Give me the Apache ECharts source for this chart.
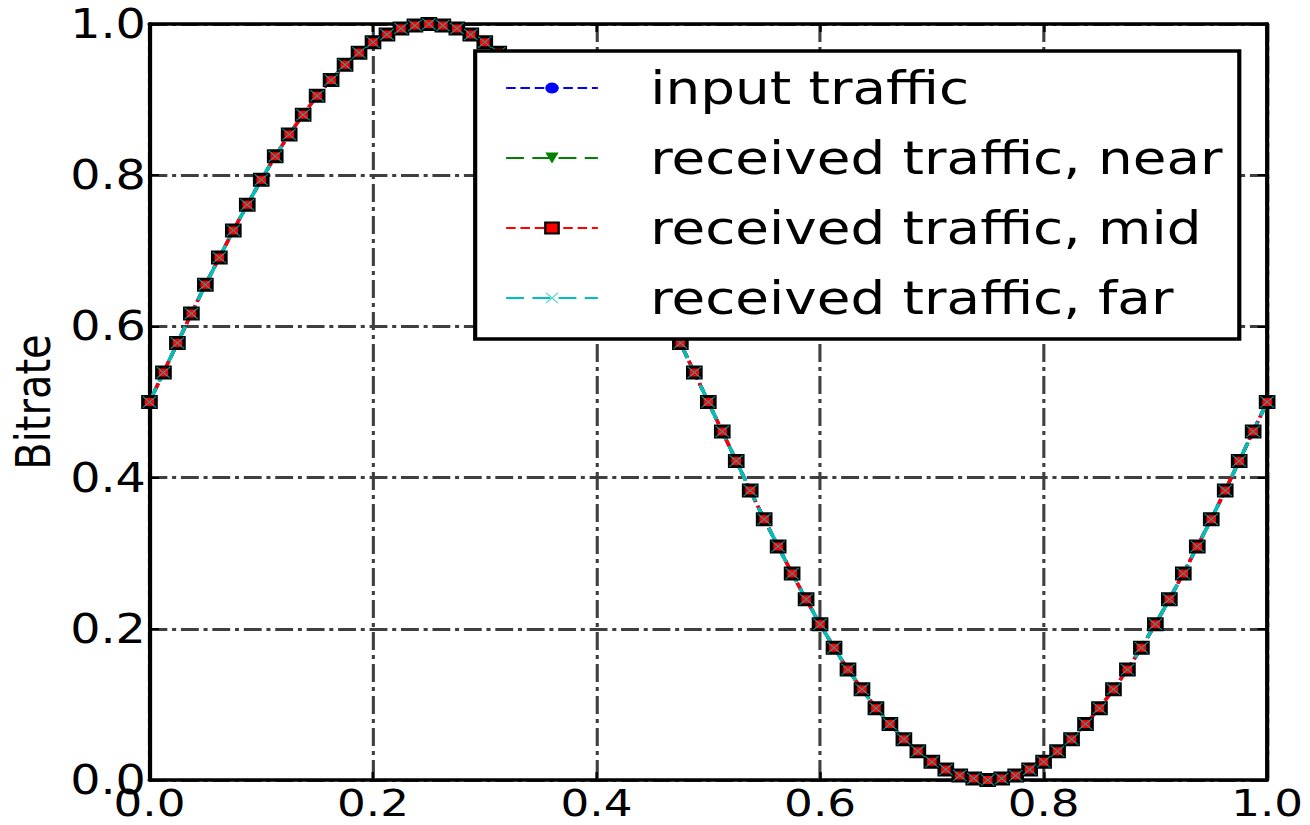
<!DOCTYPE html>
<html>
<head>
<meta charset="utf-8">
<script src="https://cdn.jsdelivr.net/npm/echarts@6/dist/echarts.min.js"></script>
<style>
  html, body { margin: 0; padding: 0; background: #fff; overflow: hidden; }
  #chart { width: 1100px; height: 825px; transform: scaleX(1.190909); transform-origin: 0 0; }
</style>
</head>
<body>
<div id="chart"></div>
<script>
// ---- data ----
const xValues = [
  0,0.0125,0.025,0.0375,0.05,0.0625,0.075,0.0875,0.1,0.1125,
  0.125,0.1375,0.15,0.1625,0.175,0.1875,0.2,0.2125,0.225,0.2375,
  0.25,0.2625,0.275,0.2875,0.3,0.3125,0.325,0.3375,0.35,0.3625,
  0.375,0.3875,0.4,0.4125,0.425,0.4375,0.45,0.4625,0.475,0.4875,
  0.5,0.5125,0.525,0.5375,0.55,0.5625,0.575,0.5875,0.6,0.6125,
  0.625,0.6375,0.65,0.6625,0.675,0.6875,0.7,0.7125,0.725,0.7375,
  0.75,0.7625,0.775,0.7875,0.8,0.8125,0.825,0.8375,0.85,0.8625,
  0.875,0.8875,0.9,0.9125,0.925,0.9375,0.95,0.9625,0.975,0.9875,
  1
];
const inputTraffic = [
  0.500,0.539,0.578,0.617,0.655,0.691,0.727,0.761,0.794,0.825,
  0.854,0.880,0.905,0.926,0.946,0.962,0.976,0.986,0.994,0.998,
  1.000,0.998,0.994,0.986,0.976,0.962,0.946,0.926,0.905,0.880,
  0.854,0.825,0.794,0.761,0.727,0.691,0.655,0.617,0.578,0.539,
  0.500,0.461,0.422,0.383,0.345,0.309,0.273,0.239,0.206,0.175,
  0.146,0.120,0.095,0.074,0.054,0.038,0.024,0.014,0.006,0.002,
  0.000,0.002,0.006,0.014,0.024,0.038,0.054,0.074,0.095,0.120,
  0.146,0.175,0.206,0.239,0.273,0.309,0.345,0.383,0.422,0.461,
  0.500
];
const receivedNear = [
  0.500,0.539,0.578,0.617,0.655,0.691,0.727,0.761,0.794,0.825,
  0.854,0.880,0.905,0.926,0.946,0.962,0.976,0.986,0.994,0.998,
  1.000,0.998,0.994,0.986,0.976,0.962,0.946,0.926,0.905,0.880,
  0.854,0.825,0.794,0.761,0.727,0.691,0.655,0.617,0.578,0.539,
  0.500,0.461,0.422,0.383,0.345,0.309,0.273,0.239,0.206,0.175,
  0.146,0.120,0.095,0.074,0.054,0.038,0.024,0.014,0.006,0.002,
  0.000,0.002,0.006,0.014,0.024,0.038,0.054,0.074,0.095,0.120,
  0.146,0.175,0.206,0.239,0.273,0.309,0.345,0.383,0.422,0.461,
  0.500
];
const receivedMid = [
  0.500,0.539,0.578,0.617,0.655,0.691,0.727,0.761,0.794,0.825,
  0.854,0.880,0.905,0.926,0.946,0.962,0.976,0.986,0.994,0.998,
  1.000,0.998,0.994,0.986,0.976,0.962,0.946,0.926,0.905,0.880,
  0.854,0.825,0.794,0.761,0.727,0.691,0.655,0.617,0.578,0.539,
  0.500,0.461,0.422,0.383,0.345,0.309,0.273,0.239,0.206,0.175,
  0.146,0.120,0.095,0.074,0.054,0.038,0.024,0.014,0.006,0.002,
  0.000,0.002,0.006,0.014,0.024,0.038,0.054,0.074,0.095,0.120,
  0.146,0.175,0.206,0.239,0.273,0.309,0.345,0.383,0.422,0.461,
  0.500
];
const receivedFar = [
  0.500,0.539,0.578,0.617,0.655,0.691,0.727,0.761,0.794,0.825,
  0.854,0.880,0.905,0.926,0.946,0.962,0.976,0.986,0.994,0.998,
  1.000,0.998,0.994,0.986,0.976,0.962,0.946,0.926,0.905,0.880,
  0.854,0.825,0.794,0.761,0.727,0.691,0.655,0.617,0.578,0.539,
  0.500,0.461,0.422,0.383,0.345,0.309,0.273,0.239,0.206,0.175,
  0.146,0.120,0.095,0.074,0.054,0.038,0.024,0.014,0.006,0.002,
  0.000,0.002,0.006,0.014,0.024,0.038,0.054,0.074,0.095,0.120,
  0.146,0.175,0.206,0.239,0.273,0.309,0.345,0.383,0.422,0.461,
  0.500
];
const seriesNames = ['input traffic', 'received traffic, near', 'received traffic, mid', 'received traffic, far'];
const xTickLabels = ['0.0', '0.2', '0.4', '0.6', '0.8', '1.0'];
const yTickLabels = ['0.0', '0.2', '0.4', '0.6', '0.8', '1.0'];
const yAxisName = 'Bitrate';

// ---- chart ----
const pairs = arr => xValues.map((x, i) => [x, arr[i]]);
const fmt = labels => v => labels[Math.round(v / 0.2)];
const FONT = 'DejaVu Sans';
const frame = { show: true, onZero: false, lineStyle: { color: '#000', width: 3.5 } };
const tick = { show: true, inside: true, length: 8, lineStyle: { color: '#000', width: 2 } };

const chart = echarts.init(document.getElementById('chart'), null, { renderer: 'svg' });
chart.setOption({
  animation: false,
  backgroundColor: '#fff',
  grid: { left: 119, right: 36, top: 24, bottom: 45, containLabel: false },
  xAxis: [
    {
      type: 'value', min: 0, max: 1, interval: 0.2, position: 'bottom',
      axisLine: frame, axisTick: tick,
      axisLabel: { show: true, margin: 6, fontSize: 38, lineHeight: 34, fontFamily: FONT, color: '#000',
                   showMinLabel: true, showMaxLabel: true, formatter: fmt(xTickLabels) },
      splitLine: { show: true, lineStyle: { color: '#3f3f3f', width: 2.6, type: [18, 5, 4, 5] } }
    },
    {
      type: 'value', min: 0, max: 1, interval: 0.2, position: 'top',
      axisLine: frame, axisTick: tick, axisLabel: { show: false }, splitLine: { show: false }
    }
  ],
  yAxis: [
    {
      type: 'value', min: 0, max: 1, interval: 0.2, position: 'left',
      name: yAxisName, nameLocation: 'middle', nameRotate: 90, nameGap: 67,
      nameTextStyle: { fontSize: 40, fontFamily: FONT, color: '#000' },
      axisLine: frame, axisTick: tick,
      axisLabel: { show: true, margin: 3, fontSize: 40, lineHeight: 36, fontFamily: FONT, color: '#000',
                   showMinLabel: true, showMaxLabel: true, formatter: fmt(yTickLabels) },
      splitLine: { show: true, lineStyle: { color: '#3f3f3f', width: 3, type: [15, 4, 3.4, 4] } }
    },
    {
      type: 'value', min: 0, max: 1, interval: 0.2, position: 'right',
      axisLine: frame, axisTick: tick, axisLabel: { show: false }, splitLine: { show: false }
    }
  ],
  legend: {
    orient: 'vertical', left: 399, top: 51,
    padding: [12, 14, 16, 25], itemGap: 20, itemWidth: 77, itemHeight: 14,
    backgroundColor: '#fff', borderColor: '#000', borderWidth: 3.5, borderRadius: 0,
    align: 'left', selectedMode: false,
    textStyle: { fontSize: 46, fontFamily: FONT, color: '#000', lineHeight: 50, padding: [0, 0, 0, 39] },
    data: seriesNames
  },
  series: [
    {
      name: seriesNames[0], type: 'line', data: pairs(inputTraffic),
      symbol: 'circle', symbolSize: 11, showAllSymbol: true,
      itemStyle: { color: '#0000ff' },
      lineStyle: { color: '#0000ff', width: 3, type: [8, 4] },
      emphasis: { disabled: true }
    },
    {
      name: seriesNames[1], type: 'line', data: pairs(receivedNear),
      symbol: 'path://M0,0L10,0L5,9Z', symbolSize: [11, 10], showAllSymbol: true,
      itemStyle: { color: '#008000' },
      lineStyle: { color: '#008000', width: 3, type: [15, 7] },
      emphasis: { disabled: true }
    },
    {
      name: seriesNames[2], type: 'line', data: pairs(receivedMid),
      symbol: 'rect', symbolSize: 11, showAllSymbol: true,
      itemStyle: { color: '#ff0000', borderColor: '#000', borderWidth: 3 },
      lineStyle: { color: '#ff0000', width: 3, type: [8, 4] },
      emphasis: { disabled: true }
    },
    {
      name: seriesNames[3], type: 'line', data: pairs(receivedFar),
      symbol: 'path://M0,0.6L0.6,0L5,4.4L9.4,0L10,0.6L5.6,5L10,9.4L9.4,10L5,5.6L0.6,10L0,9.4L4.4,5Z',
      symbolSize: 12, showAllSymbol: true,
      itemStyle: { color: '#00bfbf', opacity: 0.75 },
      lineStyle: { color: '#00bfbf', width: 3, type: [15, 7] },
      emphasis: { disabled: true }
    }
  ]
});
</script>
</body>
</html>
